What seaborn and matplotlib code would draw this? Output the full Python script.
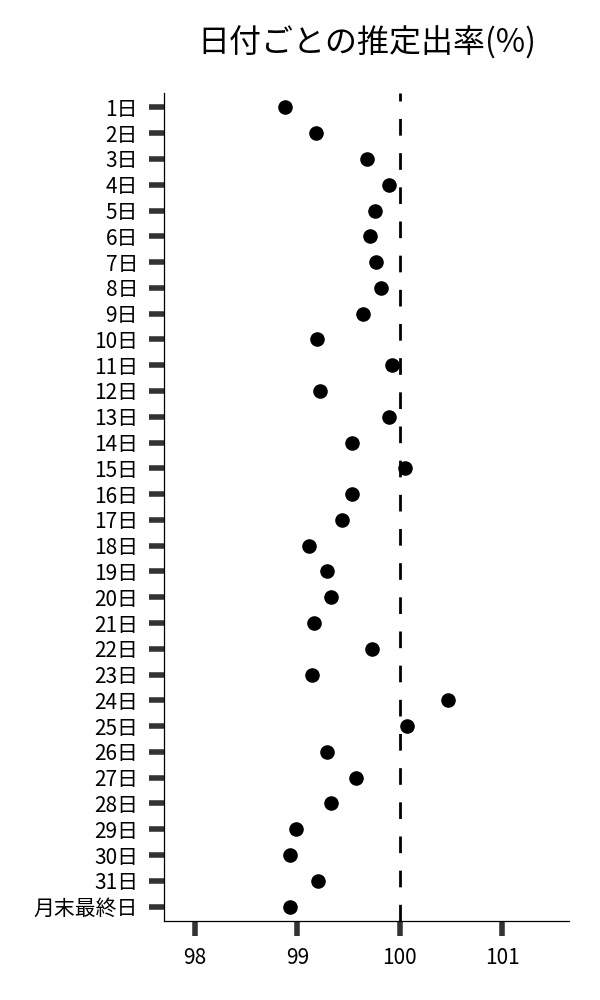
import seaborn as sns
import matplotlib.pyplot as plt
import pandas as pd

days = [f"{d}日" for d in range(1, 32)] + ["月末最終日"]
rates = [
    98.88, 99.18, 99.68, 99.89, 99.76, 99.71, 99.77, 99.82, 99.64, 99.19,
    99.92, 99.22, 99.89, 99.53, 100.05, 99.53, 99.43, 99.11, 99.29, 99.33,
    99.16, 99.73, 99.14, 100.47, 100.07, 99.29, 99.57, 99.33, 98.99, 98.93,
    99.20, 98.93,
]
xticks = [98, 99, 100, 101]

df = pd.DataFrame({"day": days, "rate": rates})

sns.set_style("ticks")
plt.rcParams["font.family"] = ["Noto Sans CJK JP", "DejaVu Sans"]
plt.rcParams["text.color"] = "black"

fig = plt.figure(figsize=(6, 10), dpi=100)
ax = fig.add_axes([0.274, 0.079, 0.674, 0.828])

sns.stripplot(data=df, x="rate", y="day", order=days, jitter=False,
              color="black", size=10.5, ax=ax)
ax.axvline(100, color="black", lw=2, ls=(0, (6, 6.3)), zorder=0)

ax.set_xlim(97.7, 101.65)
ax.set_ylim(len(days) - 0.44, -0.56)
ax.set_xticks(xticks)
ax.set_xlabel("")
ax.set_ylabel("")
ax.tick_params(axis="both", length=11, width=4, color="#333333",
               labelsize=15, labelcolor="black", pad=8)
for side in ["left", "bottom"]:
    ax.spines[side].set_linewidth(0.9)
    ax.spines[side].set_color("black")
sns.despine(ax=ax)

fig.text(0.611, 0.957, "日付ごとの推定出率(%)", ha="center", va="center",
         fontsize=23, color="black")

fig.savefig("out.png", dpi=100)
